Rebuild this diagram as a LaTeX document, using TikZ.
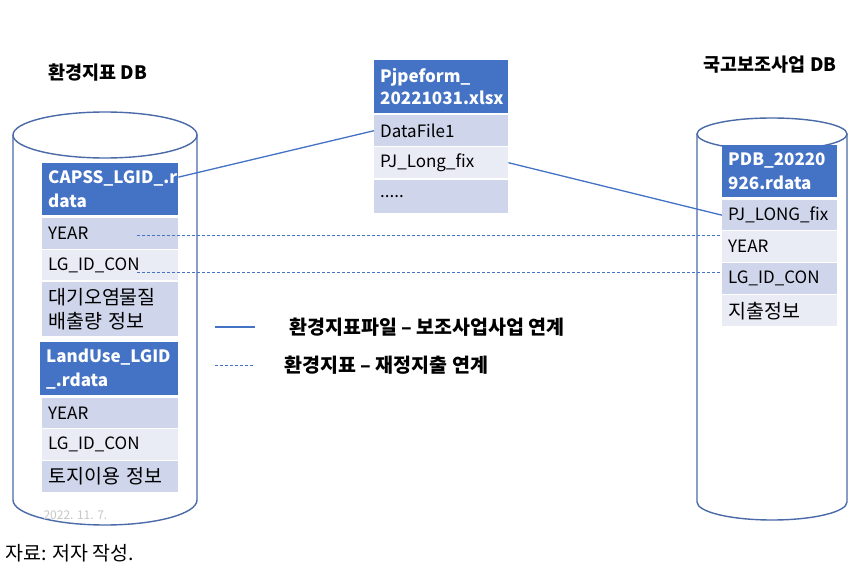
\documentclass[tikz,border=0pt]{standalone}
\usepackage{fontspec}
\setmainfont{Noto Sans CJK KR}
\usetikzlibrary{calc}
\definecolor{hdr}{HTML}{4472C4}
\definecolor{rowdark}{HTML}{CFD5EA}
\definecolor{rowlight}{HTML}{E9EBF5}
\definecolor{cyl}{HTML}{4A6AA8}
\definecolor{conn}{HTML}{4472C4}
\tikzset{
  cell/.style={anchor=north west, draw=none, inner xsep=6pt, inner ysep=0pt, align=left,
    font=\fontsize{17}{24}\selectfont, text=black},
  krcell/.style={font=\fontsize{19.5}{23.5}\selectfont},
  hcell/.style={cell, fill=hdr, text=white, font=\fontsize{17}{24}\selectfont\bfseries},
  dk/.style={cell, fill=rowdark},
  lt/.style={cell, fill=rowlight},
  cylline/.style={draw=cyl, line width=1.4pt},
  solidlink/.style={draw=conn, line width=1.3pt},
  dashlink/.style={draw=conn, line width=0.8pt, dash pattern=on 3pt off 2pt},
  ttl/.style={font=\fontsize{18.5}{20}\selectfont\bfseries},
  leg/.style={anchor=west, font=\fontsize{19.5}{22}\selectfont\bfseries}
}
\begin{document}
\begin{tikzpicture}[x=1pt, y=-1pt]
\useasboundingbox[fill=white] (0,0) rectangle (859,583);
% left cylinder
\draw[cylline] (105,135) ellipse [x radius=92, y radius=23];
\draw[cylline] (13,135) -- (13,500) arc[start angle=180, end angle=360, x radius=92, y radius=-25] -- (197,135);
% right cylinder
\draw[cylline] (772,134) ellipse [x radius=75, y radius=16];
\draw[cylline] (697,134) -- (697,502) arc[start angle=180, end angle=360, x radius=75, y radius=-18] -- (847,134);
% titles
\node[ttl] (t1) at (98,73) {환경지표 DB};
\node[ttl] (t2) at (770,65) {국고보조사업 DB};
% left tables
\node[hcell, text width=124pt, minimum height=52pt] (capss) at (42,163) {CAPSS\_LGID\_.r\\data};
\node[dk, text width=124pt, minimum height=31pt] (ly1) at (42,218) {YEAR};
\node[lt, text width=124pt, minimum height=30pt] (llg1) at (42,250) {LG\_ID\_CON};
\node[dk, krcell, text width=124pt, minimum height=54pt] (lemit) at (42,282) {대기오염물질\\배출량 정보};
\node[hcell, text width=126pt, minimum height=53pt] (land) at (40,342) {LandUse\_LGID\\\_.rdata};
\node[dk, text width=124pt, minimum height=30pt] (ly2) at (42,398) {YEAR};
\node[lt, text width=124pt, minimum height=31pt] (llg2) at (42,429) {LG\_ID\_CON};
\node[dk, krcell, text width=124pt, minimum height=31pt] (lland) at (42,461) {토지이용 정보};
% middle table
\node[hcell, text width=122pt, minimum height=53pt, font=\fontsize{17}{22}\selectfont\bfseries] (pj) at (374,60) {Pjpeform\_\\20221031.xlsx};
\node[dk, text width=122pt, minimum height=31pt] (df) at (374,115) {DataFile1};
\node[lt, text width=122pt, minimum height=31pt] (pjl) at (374,147) {PJ\_Long\_fix};
\node[dk, text width=122pt, minimum height=33pt] (dots) at (374,180) {.....};
% right table
\node[hcell, text width=103pt, minimum height=52pt] (pdb) at (722,145) {PDB\_20220\\926.rdata};
\node[dk, text width=103pt, minimum height=30pt] (rpj) at (722,200) {PJ\_LONG\_fix};
\node[lt, text width=103pt, minimum height=31pt] (ry) at (722,231) {YEAR};
\node[dk, text width=103pt, minimum height=31pt] (rlg) at (722,263) {LG\_ID\_CON};
\node[lt, krcell, text width=103pt, minimum height=31pt] (rexp) at (722,295) {지출정보};
% connectors
\draw[solidlink] ($(capss.north east)!0.27!(capss.south east)$) -- (df.west);
\draw[solidlink] (pjl.east) -- (rpj.west);
\coordinate (d1) at (137,235);
\coordinate (d2) at (137,272);
\draw[dashlink] (d1) -- (d1 -| ry.west);
\draw[dashlink] (d2) -- (d2 -| rlg.west);
% legend
\coordinate (ls1) at (215,327);
\coordinate (le1) at (255,327);
\coordinate (ls2) at (215,365);
\coordinate (le2) at (254,365);
\draw[solidlink, line width=1.8pt] (ls1) -- (le1);
\draw[dashlink] (ls2) -- (le2);
\node[leg] (lg1) at (286,327) {환경지표파일 – 보조사업사업 연계};
\node[leg] (lg2) at (281,365) {환경지표 – 재정지출 연계};
% notes
\node[anchor=west, text=black!22, font=\fontsize{12}{14}\selectfont] (date) at (40,515) {2022. 11. 7.};
\node[anchor=west, font=\fontsize{19.5}{22}\selectfont] (src) at (2,553) {자료: 저자 작성.};
\end{tikzpicture}
\end{document}
